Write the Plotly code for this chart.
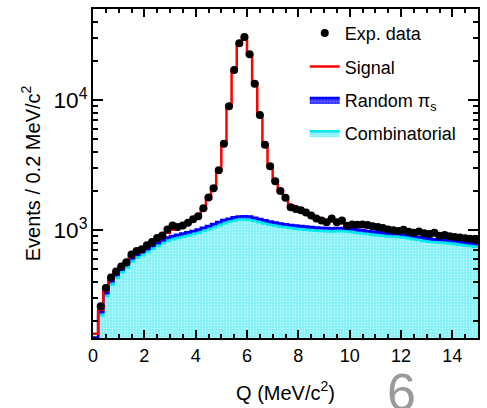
import plotly.graph_objects as go

# ---- data (bin centers, 0.2 MeV/c^2 bins) ----
q_centers = [round(0.1 + 0.2 * i, 1) for i in range(75)]

exp_data = [140, 261, 360, 434, 482, 526, 567, 653, 692, 716,
            768, 815, 873, 914, 1016, 1089, 1059, 1089, 1142, 1215,
            1284, 1476, 1790, 2107, 2902, 4630, 9000, 17100, 27400, 30600,
            22600, 13400, 7690, 4550, 3110, 2380, 2010, 1778, 1503, 1459,
            1430, 1370, 1300, 1235, 1190, 1156, 1235, 1156, 1189, 1085,
            1110, 1105, 1110, 1100, 1075, 1060, 1040, 1016, 1000, 990,
            1010, 975, 960, 980, 950, 935, 960, 910, 920, 900,
            890, 880, 870, 860, 850]

signal_total = [160, 245, 345, 420, 475, 520, 570, 630, 675, 715,
                760, 805, 850, 900, 960, 1010, 1050, 1090, 1140, 1210,
                1300, 1460, 1760, 2150, 2900, 4650, 9000, 17000, 27000, 30500,
                22800, 13500, 7700, 4600, 3150, 2400, 2000, 1760, 1560, 1460,
                1400, 1350, 1300, 1255, 1220, 1190, 1170, 1150, 1135, 1115,
                1100, 1085, 1070, 1055, 1045, 1030, 1020, 1005, 995, 985,
                975, 965, 955, 945, 935, 925, 915, 905, 895, 885,
                875, 868, 860, 852, 845]

bkg_total = [150, 235, 330, 405, 455, 500, 545, 610, 650, 680,
             720, 760, 800, 840, 880, 905, 925, 945, 965, 990,
             1015, 1045, 1080, 1120, 1160, 1200, 1230, 1260, 1280, 1285,
             1275, 1250, 1220, 1195, 1170, 1150, 1130, 1115, 1100, 1090,
             1080, 1070, 1060, 1050, 1045, 1040, 1038, 1040, 1040, 1035,
             1025, 1010, 1000, 990, 980, 970, 960, 950, 945, 940,
             930, 920, 905, 890, 875, 865, 855, 850, 845, 838,
             830, 820, 810, 800, 792]

combinatorial = [140, 222, 312, 383, 430, 473, 515, 577, 615, 643,
                 681, 718, 756, 794, 832, 855, 874, 893, 912, 936,
                 959, 988, 1021, 1058, 1096, 1134, 1162, 1191, 1210, 1214,
                 1205, 1181, 1153, 1129, 1106, 1087, 1068, 1054, 1040, 1030,
                 1021, 1011, 1002, 992, 988, 983, 981, 983, 983, 978,
                 969, 955, 945, 936, 926, 917, 907, 898, 893, 888,
                 879, 869, 855, 841, 827, 817, 808, 803, 799, 792,
                 784, 775, 765, 756, 748]

BIN = 0.2
edges = [c - BIN / 2 for c in q_centers] + [q_centers[-1] + BIN / 2]


def step(vals):
    return list(vals) + [vals[-1]]


FONT = "Liberation Sans, Arial, Helvetica, sans-serif"

fig = go.Figure()

# hidden base for fill to bottom
fig.add_trace(go.Scatter(x=edges, y=[1] * len(edges), mode="lines",
                         line=dict(width=0, shape="hv"), showlegend=False,
                         hoverinfo="skip"))

fig.add_trace(go.Scatter(
    x=edges, y=step(combinatorial), mode="lines", name="Combinatorial",
    line=dict(color="#00e8f0", width=2.5, shape="hv"),
    fill="tonexty", fillcolor="#8ff4f8",
    fillpattern=dict(shape=".", fgcolor="white", bgcolor="#7ef0f6",
                     size=3, solidity=0.35),
    legendrank=4, legendgroup="d"))

fig.add_trace(go.Scatter(
    x=edges, y=step(bkg_total), mode="lines", name="Random π<sub>s</sub>",
    line=dict(color="#0000ff", width=2.5, shape="hv"),
    fill="tonexty", fillcolor="#6b6bff",
    fillpattern=dict(shape=".", fgcolor="#b0b0ff", bgcolor="#3030ff",
                     size=3, solidity=0.35),
    legendrank=3, legendgroup="c"))

fig.add_trace(go.Scatter(
    x=edges, y=step(signal_total), mode="lines", name="Signal",
    line=dict(color="#ff0000", width=2.5, shape="hv"),
    legendrank=2, legendgroup="b"))

fig.add_trace(go.Scatter(
    x=q_centers, y=exp_data, mode="markers", name="Exp. data",
    marker=dict(color="black", size=8, symbol="circle"),
    error_x=dict(type="constant", value=BIN / 2, color="black",
                 thickness=1.5, width=0),
    legendrank=1, legendgroup="a"))

fig.update_layout(
    width=487, height=408,
    margin=dict(l=93, r=7, t=8, b=67),
    paper_bgcolor="white", plot_bgcolor="white",
    font=dict(family=FONT, size=18, color="black"),
    showlegend=True,
    legend=dict(x=0.55, y=0.982, xanchor="left", yanchor="top",
                bgcolor="rgba(0,0,0,0)", borderwidth=0,
                font=dict(family=FONT, size=18, color="black"),
                traceorder="grouped", tracegroupgap=7, itemwidth=30),
    xaxis=dict(range=[0, 15], dtick=2, tick0=0,
               ticks="inside", ticklen=8, tickwidth=1.5, tickcolor="black",
               minor=dict(ticks="inside", ticklen=4, dtick=0.5,
                          tickcolor="black", tickwidth=1.5),
               showline=True, linecolor="black", linewidth=2, mirror="allticks",
               showgrid=False, zeroline=False,
               tickfont=dict(family=FONT, size=18),
               title=dict(text="Q (MeV/c<sup>2</sup>)", standoff=21,
                          font=dict(family=FONT, size=20))),
    yaxis=dict(type="log", range=[2.172, 4.702], dtick=1,
               exponentformat="power",
               ticks="inside", ticklen=10, tickwidth=1.5, tickcolor="black",
               minor=dict(ticks="inside", ticklen=5, dtick="D1",
                          tickcolor="black", tickwidth=1.5),
               showline=True, linecolor="black", linewidth=2, mirror="allticks",
               showgrid=False, zeroline=False,
               tickfont=dict(family=FONT, size=18),
               title=dict(text="Events / 0.2 MeV/c<sup>2</sup>", standoff=8,
                          font=dict(family=FONT, size=20))),
    annotations=[dict(text="6", xref="paper", yref="paper",
                      x=0.801, y=-0.165, xanchor="center", yanchor="middle",
                      height=40, valign="middle",
                      showarrow=False,
                      font=dict(family="Liberation Sans, Arial", size=52,
                                color="#9a9a9a"))],
)

fig.write_html("out.html")
